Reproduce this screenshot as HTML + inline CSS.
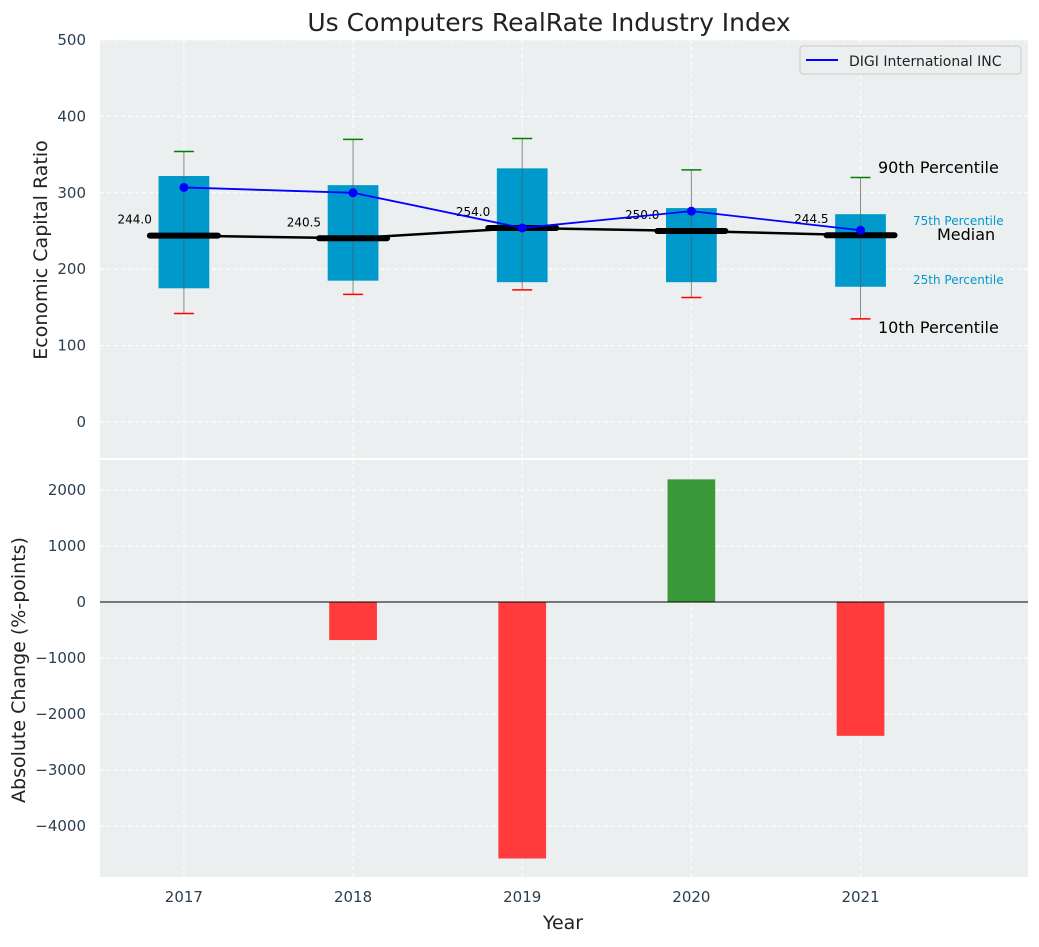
<!DOCTYPE html>
<html><head><meta charset="utf-8"><style>
body{margin:0;background:#fff;font-family:"Liberation Sans","DejaVu Sans",sans-serif}
svg text{font-family:"DejaVu Sans","Liberation Sans",sans-serif}
</style></head><body>
<svg id="c" width="1039" height="942" xmlns="http://www.w3.org/2000/svg"></svg>
<script>
const years=[2017,2018,2019,2020,2021];
const q1=[175,185,183,183,177];
const q3=[322,310,332,280,272];
const med=[244,240.5,254,250,244.5];
const p10=[142,167,173,163,135];
const p90=[354,370,371,330,320];
const digi=[307,300,254,276,251];
const change=[0,-680,-4580,2190,-2390];
const topTicks=[0,100,200,300,400,500];
const botTicks=[-4000,-3000,-2000,-1000,0,1000,2000];

const svg=document.getElementById('c');
const NS='http://www.w3.org/2000/svg';
function el(t,a,txt){const e=document.createElementNS(NS,t);for(const k in a)e.setAttribute(k,a[k]);if(txt!==undefined)e.textContent=txt;svg.appendChild(e);return e;}
const L=100,R=1028;
const x=v=>L+(v-2016.504)/(2021.99-2016.504)*(R-L);
const yT=v=>422-v*0.764;
const yB=v=>602-v*0.056;

let e;
e=el('rect',{x:L,y:40,width:R-L,height:418,fill:'#ebeff0'});

e=el('rect',{x:L,y:460,width:R-L,height:417,fill:'#ebeff0'});


years.forEach(v=>{
 el('line',{x1:x(v),x2:x(v),y1:40,y2:458,stroke:'#fff','stroke-dasharray':'4,3','stroke-width':1});
 el('line',{x1:x(v),x2:x(v),y1:460,y2:877,stroke:'#fff','stroke-dasharray':'4,3','stroke-width':1});
 e=el('text',{x:x(v),y:902,'text-anchor':'middle','font-size':15,fill:'#2c3e50'},v);
 
});
topTicks.forEach(v=>{
 el('line',{x1:L,x2:R,y1:yT(v),y2:yT(v),stroke:'#fff','stroke-dasharray':'4,3'});
 e=el('text',{x:86,y:yT(v)+5,'text-anchor':'end','font-size':15,fill:'#2c3e50'},v);
 
});
botTicks.forEach(v=>{
 el('line',{x1:L,x2:R,y1:yB(v),y2:yB(v),stroke:'#fff','stroke-dasharray':'4,3'});
 e=el('text',{x:86,y:yB(v)+5,'text-anchor':'end','font-size':15,fill:'#2c3e50'},String(v).replace('-','\u2212'));
 
});

const bw=0.3*(x(2018)-x(2017));
years.forEach((v,i)=>{
 const cx=x(v);
 e=el('line',{x1:cx,x2:cx,y1:yT(p10[i]),y2:yT(p90[i]),stroke:'#888','stroke-width':1});
 
 e=el('rect',{x:cx-bw/2,y:yT(q3[i]),width:bw,height:yT(q1[i])-yT(q3[i]),fill:'#0099cc'});
 
 el('line',{x1:cx,x2:cx,y1:yT(q1[i]),y2:yT(q3[i]),stroke:'#555','stroke-width':1,opacity:0.6});
 el('line',{x1:cx-10,x2:cx+10,y1:yT(p90[i]),y2:yT(p90[i]),stroke:'green','stroke-width':1.5});
 el('line',{x1:cx-10,x2:cx+10,y1:yT(p10[i]),y2:yT(p10[i]),stroke:'red','stroke-width':1.5});
 e=el('line',{x1:cx-34,x2:cx+34,y1:yT(med[i]),y2:yT(med[i]),stroke:'#000','stroke-width':6,'stroke-linecap':'round'});
 
 e=el('text',{x:cx-32,y:yT(med[i])-21+9,'text-anchor':'end','font-size':12,fill:'#000'},med[i].toFixed(1));
 
});
e=el('polyline',{points:years.map((v,i)=>x(v)+','+yT(med[i])).join(' '),fill:'none',stroke:'#000','stroke-width':2.5});

e=el('polyline',{points:years.map((v,i)=>x(v)+','+yT(digi[i])).join(' '),fill:'none',stroke:'blue','stroke-width':1.8});

years.forEach((v,i)=>{e=el('circle',{cx:x(v),cy:yT(digi[i]),r:4.5,fill:'blue'});
 });

[['90th Percentile',878,173,16,'#000'],['75th Percentile',913,225,12,'#0099cc'],['Median',937,240,16,'#000'],['25th Percentile',913,284,12,'#0099cc'],['10th Percentile',878,333,16,'#000']].forEach(a=>{
 e=el('text',{x:a[1],y:a[2],'font-size':a[3],fill:a[4]},a[0]);
 
});

e=el('rect',{x:800,y:46,width:221,height:28,fill:'#ebeff0',stroke:'#ccc',rx:3});

el('line',{x1:806,x2:838,y1:60,y2:60,stroke:'blue','stroke-width':2});
e=el('text',{x:849,y:66,'font-size':14,fill:'#222'},'DIGI International INC');


years.forEach((v,i)=>{
 const y0=yB(0),y1=yB(change[i]);
 e=el('rect',{x:x(v)-bw*0.47,y:Math.min(y0,y1),width:bw*0.94,height:Math.abs(y1-y0),fill:change[i]>=0?'#3a9a3a':'#ff3b3b'});
 
});
el('line',{x1:L,x2:R,y1:yB(0),y2:yB(0),stroke:'#000','stroke-width':1});

e=el('text',{x:549,y:31,'text-anchor':'middle','font-size':25,fill:'#222'},'Us Computers RealRate Industry Index');

e=el('text',{x:563,y:929,'text-anchor':'middle','font-size':19,fill:'#222'},'Year');

e=el('text',{x:47,y:250,'text-anchor':'middle','font-size':19,fill:'#222',transform:'rotate(-90 47 250)'},'Economic Capital Ratio');

e=el('text',{x:25,y:670,'text-anchor':'middle','font-size':19,fill:'#222',transform:'rotate(-90 25 670)'},'Absolute Change (%-points)');

</script>
</body></html>
